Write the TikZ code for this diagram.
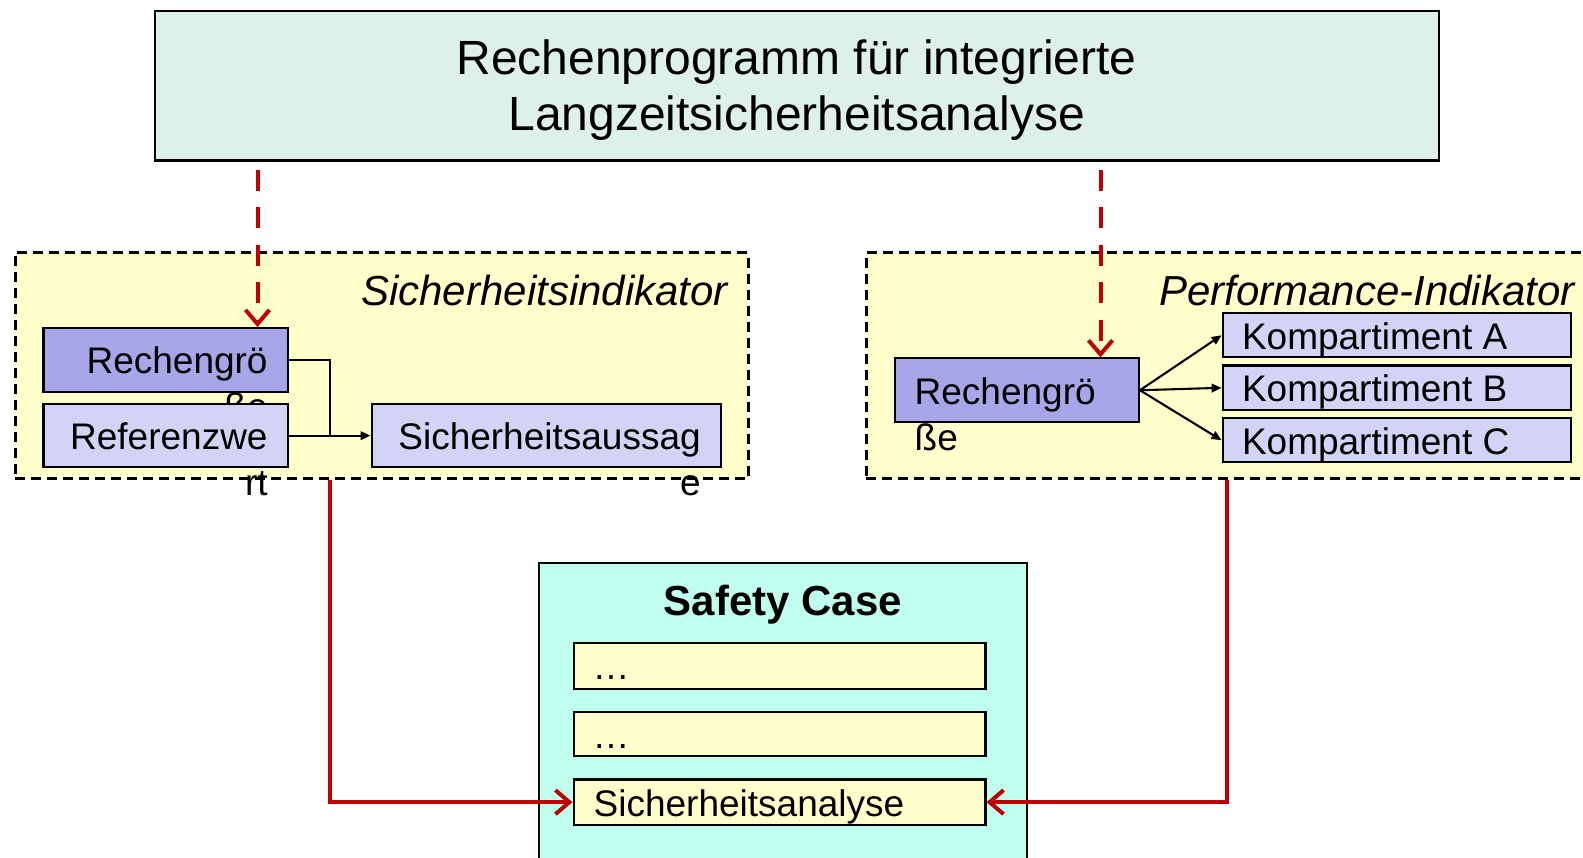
\documentclass[tikz,border=0pt]{standalone}
\usepackage{fontspec}
\setmainfont{Liberation Sans}
\usetikzlibrary{arrows.meta,calc}
\definecolor{topfill}{RGB}{221,241,232}
\definecolor{regfill}{RGB}{255,255,204}
\definecolor{darkbox}{RGB}{166,166,232}
\definecolor{lightbox}{RGB}{211,211,245}
\definecolor{safefill}{RGB}{192,255,238}
\definecolor{redc}{RGB}{192,0,0}
\begin{document}
\begin{tikzpicture}[x=1pt,y=-1pt,
  box/.style={draw=black, line width=2.1pt, inner sep=0pt, anchor=north west},
  region/.style={draw=black, line width=2.4pt, dash pattern=on 10pt off 6pt, fill=regfill, inner sep=0pt, anchor=north west},
  txt/.style={inner sep=0pt, font=\fontsize{37}{46}\selectfont},
  conn/.style={draw=black, line width=2.1pt},
  blackarrow/.style={conn, -{Triangle[length=10pt,width=8.5pt]}},
  redarrow/.style={draw=redc, line width=4pt, -{Straight Barb[length=14pt,width=24pt]}},
  reddash/.style={redarrow, dash pattern=on 21pt off 16.5pt, dash phase=29.5pt},
]
\useasboundingbox (0,0) rectangle (1583,858);
\fill[white] (0,0) rectangle (1583,858);
\clip (0,0) rectangle (1583,858);

% top box
\node[box, fill=topfill, minimum width=1284.2pt, minimum height=149.4pt] (top) at (153.5,10.1) {};
\node[inner sep=0pt, anchor=base, font=\fontsize{48}{56}\selectfont] (t1) at ($(top.north)+(0,64)$) {Rechenprogramm für integrierte};
\node[inner sep=0pt, anchor=base, font=\fontsize{48}{56}\selectfont] (t2) at ($(top.north)+(0,120)$) {Langzeitsicherheitsanalyse};

% regions
\node[region, minimum width=733pt, minimum height=226.1pt] (regL) at (14.1,251.4) {};
\node[region, minimum width=732pt, minimum height=226.1pt] (regR) at (865.2,251.4) {};
\node[inner sep=0pt, anchor=base east, font=\fontsize{42}{50}\selectfont\itshape] (labL) at (728,306) {Sicherheitsindikator};
\node[inner sep=0pt, anchor=base west, font=\fontsize{42}{50}\selectfont\itshape] (labR) at (1159,306) {Performance-Indikator};

% left region boxes
\node[box, fill=darkbox, minimum width=244.3pt, minimum height=63.7pt] (rechL) at (42.4,327) {};
\node[txt, anchor=base east] (rechLa) at ($(rechL.east)+(-21,14)$) {Rechengrö};
\node[txt, anchor=base east] (rechLb) at ($(rechLa.base east)+(0,46)$) {ße};
\node[box, fill=lightbox, minimum width=244.3pt, minimum height=63.6pt] (refL) at (42.4,402.8) {};
\node[txt, anchor=base east] (refLa) at ($(refL.east)+(-21,14)$) {Referenzwe};
\node[txt, anchor=base east] (refLb) at ($(refLa.base east)+(0,46)$) {rt};
\node[box, fill=lightbox, minimum width=349.3pt, minimum height=63.6pt] (sA) at (370.5,402.8) {};
\node[txt, anchor=base east] (sAa) at ($(sA.east)+(-21,14)$) {Sicherheitsaussag};
\node[txt, anchor=base east] (sAb) at ($(sAa.base east)+(0,46)$) {e};

\coordinate (jL) at (330,0);
\draw[conn] (rechL.east) -| (jL |- refL.east);
\draw[blackarrow] (refL.east) -- (sA.west);

% right region boxes
\node[box, fill=darkbox, minimum width=244.3pt, minimum height=63.6pt] (rechR) at (893.5,357.4) {};
\node[txt, anchor=base west] (rechRa) at ($(rechR.west)+(21,14)$) {Rechengrö};
\node[txt, anchor=base west] (rechRb) at ($(rechRa.base west)+(0,46)$) {ße};
\node[box, fill=lightbox, minimum width=348.4pt, minimum height=44.4pt] (kA) at (1221.6,312) {};
\node[box, fill=lightbox, minimum width=348.4pt, minimum height=44.5pt] (kB) at (1221.6,364.5) {};
\node[box, fill=lightbox, minimum width=348.4pt, minimum height=44.4pt] (kC) at (1221.6,417) {};
\node[txt, anchor=base west] (kAt) at ($(kA.west)+(20.2,14)$) {Kompartiment A};
\node[txt, anchor=base west] (kBt) at ($(kB.west)+(20.2,14)$) {Kompartiment B};
\node[txt, anchor=base west] (kCt) at ($(kC.west)+(20.2,14)$) {Kompartiment C};
\draw[blackarrow] (rechR.east) -- (kA.west);
\draw[blackarrow] (rechR.east) -- (kB.west);
\draw[blackarrow] (rechR.east) -- (kC.west);

% safety case
\node[box, fill=safefill, minimum width=487.7pt, minimum height=330pt] (sc) at (538,562.3) {};
\node[inner sep=0pt, anchor=base, font=\fontsize{42}{50}\selectfont\bfseries] (sct) at ($(sc.north)+(0,53)$) {Safety Case};
\node[box, fill=regfill, minimum width=411.9pt, minimum height=45.5pt] (sa1) at (572.5,642) {};
\node[box, fill=regfill, minimum width=411.9pt, minimum height=44.4pt] (sa2) at (572.5,710.8) {};
\node[box, fill=regfill, minimum width=411.9pt, minimum height=45.4pt] (sa3) at (572.5,778.4) {};
\node[txt, anchor=base west] (sa1t) at ($(sa1.west)+(20,14)$) {…};
\node[txt, anchor=base west] (sa2t) at ($(sa2.west)+(20,14)$) {…};
\node[txt, anchor=base west] (sa3t) at ($(sa3.west)+(21,14)$) {Sicherheitsanalyse};

% red connectors
\coordinate (dL) at (257.5,0);
\coordinate (dR) at (1100.5,0);
\coordinate (vR) at (1226.7,0);
\draw[reddash] (top.south -| dL) -- (rechL.north -| dL);
\draw[reddash] (top.south -| dR) -- (rechR.north -| dR);
\draw[redarrow] (regL.south -| jL) |- (sa3.west);
\draw[redarrow] (regR.south -| vR) |- (sa3.east);
\end{tikzpicture}
\end{document}
